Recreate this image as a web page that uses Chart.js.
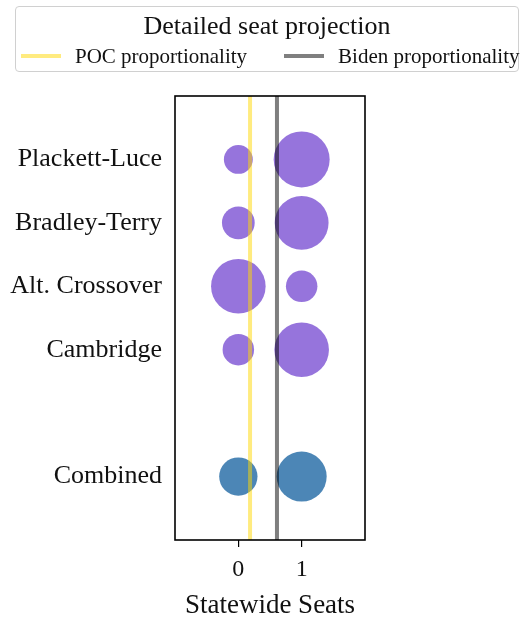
<!DOCTYPE html>
<html>
<head>
<meta charset="utf-8">
<script src="https://cdn.jsdelivr.net/npm/chart.js@4.4.1/dist/chart.umd.min.js"></script>
<style>
  html, body { margin: 0; padding: 0; background: #fff; }
  #wrap { position: relative; width: 524px; height: 622px; }
  #legend {
    position: absolute; left: 15px; top: 6px; width: 502px; height: 64px;
    border: 1.5px solid #d0d0d0; border-radius: 4px;
    font-family: 'Liberation Serif', serif; color: #111; background: #fff;
  }
  #legend .title {
    position: absolute; top: 4px; left: 0; width: 100%;
    text-align: center; font-size: 26px; line-height: 30px; white-space: nowrap;
  }
  #legend .row {
    position: absolute; top: 37px; left: 5px; width: 495px;
    display: flex; align-items: center; font-size: 21px; line-height: 24px; white-space: nowrap;
  }
  #legend .item { display: flex; align-items: center; margin-right: 37px; flex: none; }
  #legend .swatch { width: 40px; height: 4px; margin-right: 14px; flex: none; }
</style>
</head>
<body>
<div id="wrap">
  <canvas id="seatChart" width="524" height="622"></canvas>
  <div id="legend">
    <div class="title">Detailed seat projection</div>
    <div class="row" id="legendRow"></div>
  </div>
</div>
<script>
const methods       = ['Plackett-Luce', 'Bradley-Terry', 'Alt. Crossover', 'Cambridge', 'Combined'];
const methodRows    = [0, 1, 2, 3, 5];
const seatTicks     = [0, 1];
const probZeroSeats = [0.21, 0.27, 0.75, 0.25, 0.37];
const probOneSeat   = [0.79, 0.73, 0.25, 0.75, 0.63];
const guideLabels   = ['POC proportionality', 'Biden proportionality'];
const guideValues   = [0.185, 0.61];

const X_RANGE = [-1, 2];
const Y_RANGE = [-1, 6];
const R_FULL  = 31.5;   // radius of a bubble with probability 1
const FONT    = "'Liberation Serif', serif";

const PURPLE = 'rgba(147, 112, 219, 0.97)';
const BLUE   = 'rgba(70, 130, 180, 0.97)';
const GUIDE_COLORS = ['rgba(255, 215, 0, 0.5)', 'rgba(0, 0, 0, 0.5)'];

const rowColors = methods.map(m => m === 'Combined' ? BLUE : PURPLE);

function bubbleSet(seats, probs) {
  return {
    label: seats + ' seats',
    data: methodRows.map((row, i) => ({ x: seats, y: row, r: Math.sqrt(probs[i]) * R_FULL })),
    backgroundColor: rowColors,
    borderWidth: 0,
    order: 1
  };
}

const guideSets = guideLabels.map((label, i) => ({
  type: 'line',
  label,
  data: [{ x: guideValues[i], y: Y_RANGE[0] }, { x: guideValues[i], y: Y_RANGE[1] }],
  borderColor: GUIDE_COLORS[i],
  backgroundColor: GUIDE_COLORS[i],
  borderWidth: 4,
  pointRadius: 0,
  order: 0,
  guide: true
}));

// Closed box round the plot area, like the matplotlib spines
const frame = {
  id: 'frame',
  afterDraw(chart) {
    const { ctx, chartArea: a } = chart;
    ctx.save();
    ctx.strokeStyle = '#000';
    ctx.lineWidth = 1.6;
    ctx.strokeRect(a.left, a.top, a.right - a.left, a.bottom - a.top);
    ctx.restore();
  }
};

const chart = new Chart(document.getElementById('seatChart'), {
  type: 'bubble',
  data: { datasets: [...guideSets, bubbleSet(0, probZeroSeats), bubbleSet(1, probOneSeat)] },
  options: {
    responsive: false,
    animation: false,
    events: [],
    layout: { padding: { top: 96, right: 159, bottom: 0, left: 0 } },
    plugins: { legend: { display: false }, tooltip: { enabled: false } },
    scales: {
      x: {
        type: 'linear', min: X_RANGE[0], max: X_RANGE[1],
        afterBuildTicks: s => { s.ticks = seatTicks.map(v => ({ value: v })); },
        afterFit: s => { s.height = 82; },
        grid: { drawOnChartArea: false, drawTicks: true, tickLength: 7, color: '#000', lineWidth: 1.2 },
        border: { display: false },
        ticks: { padding: 8, color: '#111', font: { family: FONT, size: 24 } },
        title: { display: true, text: 'Statewide Seats', color: '#111', font: { family: FONT, size: 27 }, padding: { top: 0, bottom: 0 } }
      },
      y: {
        type: 'linear', reverse: true, min: Y_RANGE[0], max: Y_RANGE[1],
        afterBuildTicks: s => { s.ticks = methodRows.map(v => ({ value: v })); },
        afterFit: s => { s.width = 175; },
        grid: { display: false, drawTicks: false },
        border: { display: false },
        ticks: { padding: 13, color: '#111', font: { family: FONT, size: 26 }, callback: (v, i) => methods[i] }
      }
    }
  },
  plugins: [frame]
});

// HTML legend built from the guide datasets
const legendRow = document.getElementById('legendRow');
chart.data.datasets.filter(d => d.guide).forEach(d => {
  const item = document.createElement('div');
  item.className = 'item';
  item.innerHTML = `<span class="swatch" style="background:${d.borderColor}"></span><span>${d.label}</span>`;
  legendRow.appendChild(item);
});
</script>
</body>
</html>
